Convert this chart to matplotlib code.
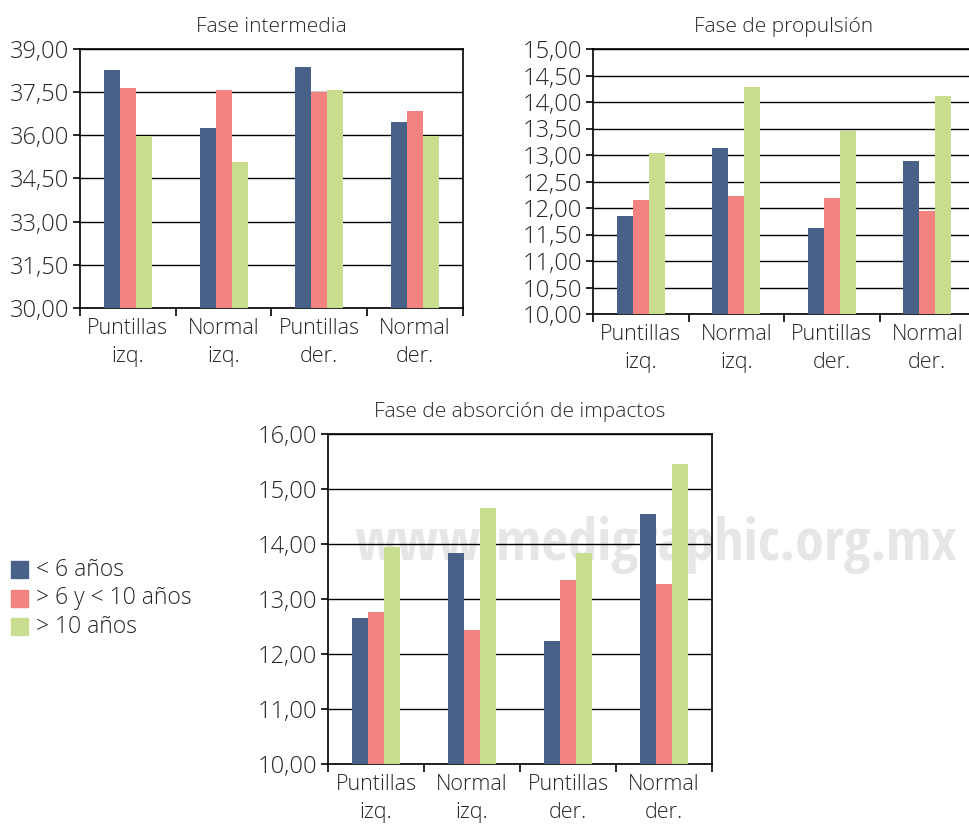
import matplotlib
matplotlib.use("Agg")
import matplotlib.pyplot as plt
import numpy as np
from matplotlib.patches import Rectangle
from matplotlib import font_manager

plt.rcParams['font.family'] = ['Open Sans', 'DejaVu Sans']
plt.rcParams['font.weight'] = 'light'

categories = ["Puntillas\nizq.", "Normal\nizq.", "Puntillas\nder.", "Normal\nder."]
series_names = ["< 6 años", "> 6 y < 10 años", "> 10 años"]
colors = ["#476188", "#F38380", "#C8DE8E"]

intermedia_lt6 = [38.27, 36.24, 38.38, 36.46]
intermedia_6_10 = [37.64, 37.58, 37.52, 36.84]
intermedia_gt10 = [35.98, 35.06, 37.58, 35.98]

propulsion_lt6 = [11.84, 13.13, 11.62, 12.88]
propulsion_6_10 = [12.16, 12.22, 12.19, 11.94]
propulsion_gt10 = [13.04, 14.28, 13.45, 14.11]

absorcion_lt6 = [12.66, 13.84, 12.23, 14.55]
absorcion_6_10 = [12.77, 12.43, 13.34, 13.27]
absorcion_gt10 = [13.94, 14.65, 13.84, 15.45]

W, H = 970, 824
fig = plt.figure(figsize=(W / 100, H / 100), dpi=100)
TXT = "#262626"


def make_ax(l, r, t, b):
    ax = fig.add_axes([l / W, (H - b) / H, (r - l) / W, (b - t) / H])
    ax.patch.set_alpha(0)
    return ax


def draw(ax, series, yticks, title):
    x = np.arange(len(categories))
    bw = 0.167
    for i, (vals, c) in enumerate(zip(series, colors)):
        ax.bar(x + (i - 1) * bw, [v - yticks[0] for v in vals], bw, bottom=yticks[0],
               color=c, zorder=3, linewidth=0)
    ax.set_xlim(-0.5, len(categories) - 0.5)
    ax.set_ylim(yticks[0], yticks[-1])
    ax.set_yticks(yticks)
    ax.set_yticklabels([f"{v:.2f}".replace(".", ",") for v in yticks],
                       fontsize=17, color=TXT)
    ax.yaxis.grid(True, color="black", linewidth=1.0, zorder=1)
    ax.set_xticks(np.arange(-0.5, len(categories), 1.0))
    ax.set_xticklabels([])
    ax.set_xticks(x, minor=True)
    ax.set_xticklabels(categories, minor=True, fontsize=15.5, color=TXT, linespacing=1.45)
    ax.tick_params(axis="x", which="minor", length=0, pad=7)
    ax.tick_params(axis="x", which="major", length=6, width=1.2, direction="out")
    ax.tick_params(axis="y", length=5, width=1.2, direction="out", pad=3)
    for s in ax.spines.values():
        s.set_linewidth(1.2)
        s.set_color("black")
    ax.set_title(title, fontsize=15, color=TXT, pad=12, fontweight="light")


ax1 = make_ax(80, 463, 49, 308)
draw(ax1, [intermedia_lt6, intermedia_6_10, intermedia_gt10],
     [30.0, 31.5, 33.0, 34.5, 36.0, 37.5, 39.0], "Fase intermedia")

ax2 = make_ax(593, 975, 49, 314)
draw(ax2, [propulsion_lt6, propulsion_6_10, propulsion_gt10],
     [10.0, 10.5, 11.0, 11.5, 12.0, 12.5, 13.0, 13.5, 14.0, 14.5, 15.0], "Fase de propulsión")

ax3 = make_ax(328, 712, 434, 764)
draw(ax3, [absorcion_lt6, absorcion_6_10, absorcion_gt10],
     [10.0, 11.0, 12.0, 13.0, 14.0, 15.0, 16.0], "Fase de absorción de impactos")

# watermark (behind the plots): pick a condensed bold face if one is installed
names = {f.name for f in font_manager.fontManager.ttflist}
wm_family = "Liberation Sans"
wm_size = 35
for cand in ["Liberation Sans Narrow", "Open Sans Condensed", "Roboto Condensed",
             "DejaVu Sans Condensed"]:
    if cand in names:
        wm_family = cand
        wm_size = 42
        break
fig.text(354 / W, 1 - 560 / H, "www.medigraphic.org.mx", fontsize=wm_size, fontweight="bold",
         color="#e5e6e8", family=[wm_family],
         va="baseline", ha="left", zorder=-1)

# legend
for i, (name, c) in enumerate(zip(series_names, colors)):
    yc = 570 + i * 28.5
    fig.patches.append(Rectangle((11 / W, 1 - (yc + 8) / H), 17 / W, 17 / H,
                                 transform=fig.transFigure, color=c, figure=fig))
    fig.text(36 / W, 1 - yc / H, name, fontsize=16.5, color=TXT, va="center", ha="left")

fig.savefig("out.png", dpi=100)
